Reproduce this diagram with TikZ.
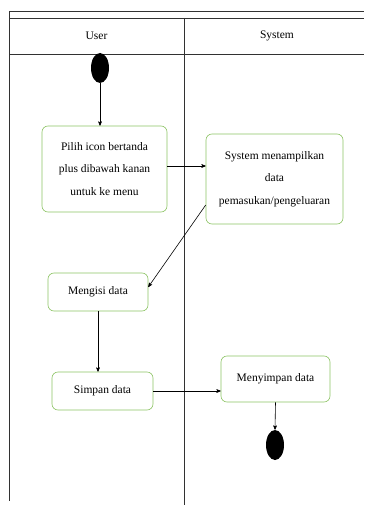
\documentclass[tikz,border=0pt]{standalone}
\usepackage{fontspec}
\setmainfont{Liberation Serif}
\usepackage{tikz}
\usetikzlibrary{arrows}
\usetikzlibrary{shapes.geometric}
\usetikzlibrary{positioning}
\definecolor{actgreen}{RGB}{140,195,100}
\definecolor{lanegray}{RGB}{50,50,50}

\begin{document}
\begin{tikzpicture}[x=1pt,y=-1pt,
    ->,>=stealth',
    semithick,
    activity/.style={draw=actgreen,rounded corners=6pt,align=center,
      font=\fontsize{11.5}{22.5}\selectfont,inner sep=2pt},
    dot/.style={ellipse,fill=black,minimum width=18pt,
      minimum height=30pt,inner sep=0pt},
    lane/.style={draw=lanegray,line width=0.6pt,-}]

  \useasboundingbox (0,0) rectangle (364,505);

  % swimlanes
  \draw[lane] (9,11) -- (364,11);
  \draw[lane] (9,18) -- (364,18);
  \draw[lane] (9,54) -- (364,54);
  \draw[lane] (9,11) -- (9,501);
  \draw[lane] (184,18) -- (184,505);

  \node[font=\fontsize{11.5}{14}\selectfont]
    (UserLane) at (96.5,36) {User};
  \node[font=\fontsize{11.5}{14}\selectfont]
    (SystemLane) at (277,36) {System};

  % activities
  \node[dot]
    (Start) at (100,68) {};
  \node[activity,minimum width=125pt,minimum height=86pt]
    (Pilih) at (104.5,169) {Pilih icon bertanda\\plus dibawah kanan\\untuk ke menu};
  \node[activity,minimum width=137pt,minimum height=90pt]
    (Tampil) at (274.5,179) {System menampilkan\\data\\pemasukan/pengeluaran};
  \node[activity,minimum width=100pt,minimum height=38pt]
    (Mengisi) at (98,292) {Mengisi data};
  \node[activity,minimum width=101pt,minimum height=38pt]
    (Simpan) at (102.5,391) {Simpan data};
  \node[activity,minimum width=109pt,minimum height=46pt]
    (Menyimpan) at (275.5,379) {Menyimpan data};
  \node[dot]
    (End) at (275,445) {};

  \path[->]
    (Start.south)   edge (Start.south |- Pilih.north)
    ([yshift=3pt]Pilih.east) edge ([yshift=3pt]Pilih.east -| Tampil.west)
    ([yshift=-26pt]Tampil.west) edge ([yshift=5pt]Mengisi.east)
    (Mengisi.south) edge (Mengisi.south |- Simpan.north)
    (Simpan.east)   edge (Simpan.east -| Menyimpan.west)
    (Menyimpan.south) edge (End.north);

\end{tikzpicture}
\end{document}
